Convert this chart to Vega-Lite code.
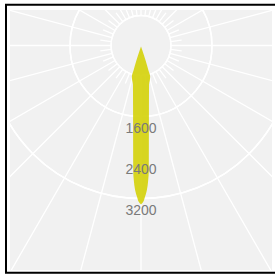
{
  "$schema": "https://vega.github.io/schema/vega-lite/v6.json",
  "width": 262,
  "height": 260,
  "autosize": "none",
  "padding": {"left": 10, "top": 10, "right": 3, "bottom": 5},
  "background": "white",
  "config": {"view": {"fill": "#f1f1f1", "stroke": null}},
  "layer": [
    {
      "data": {"values": [{"r": 585}, {"r": 800}, {"r": 1600}, {"r": 2400}, {"r": 3200}, {"r": 4000}, {"r": 4800}, {"r": 5600}]},
      "mark": {"type": "arc", "filled": false, "stroke": "white", "strokeWidth": 1.5, "theta": 0, "theta2": 6.2832, "clip": true},
      "encoding": {
        "x": {"datum": 0, "type": "quantitative", "scale": {"domain": [-2556, 2556], "nice": false, "zero": false}, "axis": null},
        "y": {"datum": 0, "type": "quantitative", "scale": {"domain": [-692.7, 4380.5], "nice": false, "zero": false, "reverse": true}, "axis": null},
        "radius": {"field": "r", "type": "quantitative", "scale": {"type": "linear", "domain": [0, 3200], "range": [0, 164], "zero": true, "nice": false}, "legend": null}
      }
    },
    {
      "data": {"values": [
        {"a": 0, "ri": 585, "ro": 6500}, {"a": 15, "ri": 585, "ro": 6500}, {"a": 30, "ri": 585, "ro": 6500}, {"a": 45, "ri": 585, "ro": 6500},
        {"a": 60, "ri": 585, "ro": 6500}, {"a": 75, "ri": 585, "ro": 6500}, {"a": 90, "ri": 585, "ro": 6500}, {"a": 105, "ri": 585, "ro": 6500},
        {"a": 120, "ri": 585, "ro": 6500}, {"a": 135, "ri": 585, "ro": 6500}, {"a": 150, "ri": 585, "ro": 6500}, {"a": 165, "ri": 585, "ro": 6500},
        {"a": 180, "ri": 585, "ro": 6500}, {"a": 195, "ri": 585, "ro": 6500}, {"a": 210, "ri": 585, "ro": 6500}, {"a": 225, "ri": 585, "ro": 6500},
        {"a": 240, "ri": 585, "ro": 6500}, {"a": 255, "ri": 585, "ro": 6500}, {"a": 270, "ri": 585, "ro": 6500}, {"a": 285, "ri": 585, "ro": 6500},
        {"a": 300, "ri": 585, "ro": 6500}, {"a": 315, "ri": 585, "ro": 6500}, {"a": 330, "ri": 585, "ro": 6500}, {"a": 345, "ri": 585, "ro": 6500},
        {"a": 7.5, "ri": 585, "ro": 800}, {"a": 22.5, "ri": 585, "ro": 800}, {"a": 37.5, "ri": 585, "ro": 800}, {"a": 52.5, "ri": 585, "ro": 800},
        {"a": 67.5, "ri": 585, "ro": 800}, {"a": 82.5, "ri": 585, "ro": 800}, {"a": 97.5, "ri": 585, "ro": 800}, {"a": 112.5, "ri": 585, "ro": 800},
        {"a": 127.5, "ri": 585, "ro": 800}, {"a": 142.5, "ri": 585, "ro": 800}, {"a": 157.5, "ri": 585, "ro": 800}, {"a": 172.5, "ri": 585, "ro": 800},
        {"a": 187.5, "ri": 585, "ro": 800}, {"a": 202.5, "ri": 585, "ro": 800}, {"a": 217.5, "ri": 585, "ro": 800}, {"a": 232.5, "ri": 585, "ro": 800},
        {"a": 247.5, "ri": 585, "ro": 800}, {"a": 262.5, "ri": 585, "ro": 800}, {"a": 277.5, "ri": 585, "ro": 800}, {"a": 292.5, "ri": 585, "ro": 800},
        {"a": 307.5, "ri": 585, "ro": 800}, {"a": 322.5, "ri": 585, "ro": 800}, {"a": 337.5, "ri": 585, "ro": 800}, {"a": 352.5, "ri": 585, "ro": 800}
      ]},
      "mark": {"type": "arc", "filled": false, "stroke": "white", "strokeWidth": 1.3, "clip": true},
      "encoding": {
        "x": {"datum": 0, "type": "quantitative"},
        "y": {"datum": 0, "type": "quantitative"},
        "theta": {"field": "a", "type": "quantitative", "stack": null, "scale": {"type": "linear", "domain": [0, 360], "range": [0, 6.2832], "zero": true, "nice": false}},
        "theta2": {"field": "a"},
        "radius": {"field": "ro", "type": "quantitative"},
        "radius2": {"field": "ri"}
      }
    },
    {
      "data": {"values": [
        {"pos": 20, "left": 0, "right": 0},
        {"pos": 98, "left": -27, "right": 27},
        {"pos": 293, "left": -90, "right": 90},
        {"pos": 488, "left": -146, "right": 146},
        {"pos": 605, "left": -178, "right": 178},
        {"pos": 680, "left": -172, "right": 172},
        {"pos": 760, "left": -157, "right": 157},
        {"pos": 1171, "left": -155, "right": 155},
        {"pos": 2439, "left": -152, "right": 152},
        {"pos": 2634, "left": -140, "right": 140},
        {"pos": 2829, "left": -113, "right": 113},
        {"pos": 2966, "left": -74, "right": 74},
        {"pos": 3063, "left": -35, "right": 35},
        {"pos": 3100, "left": 0, "right": 0}
      ]},
      "mark": {"type": "area", "orient": "horizontal", "interpolate": "monotone", "color": "#d2d000", "opacity": 0.87},
      "encoding": {
        "y": {"field": "pos", "type": "quantitative"},
        "x": {"field": "left", "type": "quantitative"},
        "x2": {"field": "right"}
      }
    },
    {
      "data": {"values": [{"v": 1600, "label": "1600"}, {"v": 2400, "label": "2400"}, {"v": 3200, "label": "3200"}]},
      "mark": {"type": "text", "font": "Liberation Sans", "fontSize": 14, "color": "#7a7a7a", "baseline": "middle", "align": "center", "dy": 1.5},
      "encoding": {
        "x": {"datum": 0, "type": "quantitative"},
        "y": {"field": "v", "type": "quantitative"},
        "text": {"field": "label"}
      }
    },
    {
      "data": {"values": [{}]},
      "mark": {"type": "rect", "fill": null, "stroke": "black", "strokeWidth": 2},
      "encoding": {
        "x": {"datum": -2634, "type": "quantitative"},
        "x2": {"datum": 2850},
        "y": {"datum": -795, "type": "quantitative"},
        "y2": {"datum": 4434}
      }
    }
  ]
}
